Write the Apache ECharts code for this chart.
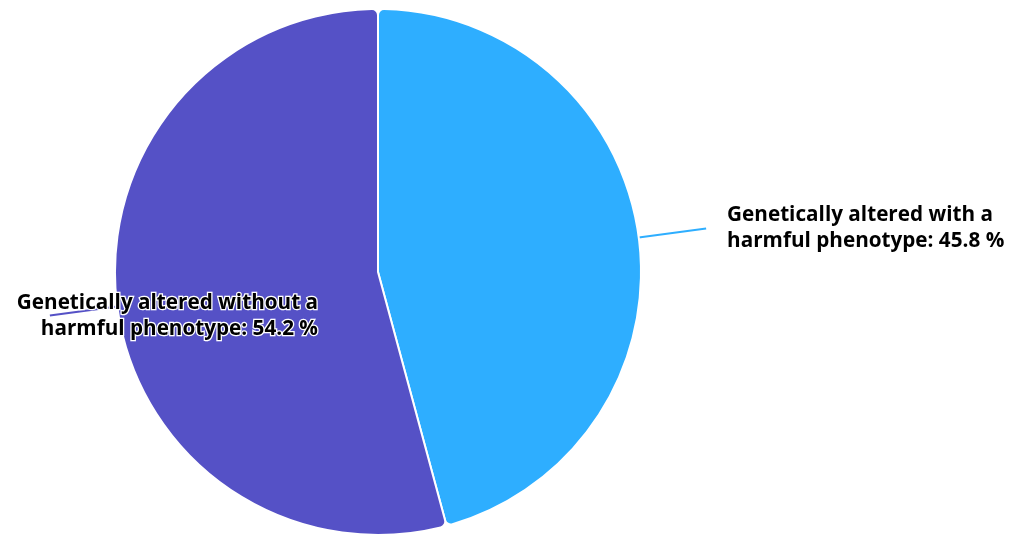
<!DOCTYPE html>
<html>
<head>
<meta charset="utf-8">
<script src="https://cdn.jsdelivr.net/npm/echarts@6/dist/echarts.min.js"></script>
<style>html,body{margin:0;padding:0;background:#fff;}#c{width:1018px;height:537px;}</style>
</head>
<body>
<div id="c"></div>
<script>
const categories = ['Genetically altered with a\nharmful phenotype', 'Genetically altered without a\nharmful phenotype'];
const values = [45.8, 54.2];
const colors = ['#2EAEFF', '#5551C6'];

const chart = echarts.init(document.getElementById('c'), null, {renderer: 'canvas'});
chart.setOption({
  animation: false,
  backgroundColor: '#ffffff',
  series: [{
    type: 'pie',
    center: [378, 272],
    radius: 263,
    startAngle: 90,
    clockwise: true,
    avoidLabelOverlap: false,
    data: categories.map((c, i) => ({name: c, value: values[i], itemStyle: {color: colors[i]}})),
    itemStyle: {borderColor: '#ffffff', borderWidth: 2, borderRadius: 6},
    label: {
      show: true,
      position: 'outside',
      formatter: p => p.name + ': ' + p.value + ' %',
      fontFamily: 'Open Sans',
      fontWeight: 'bold',
      fontSize: 20.7,
      lineHeight: 26,
      color: '#000',
      textBorderColor: '#fff',
      textBorderWidth: 2.5,
      distanceToLabelLine: 21
    },
    labelLine: {show: true, length: 68, length2: 0, smooth: false, lineStyle: {width: 2}},
    emphasis: {disabled: true},
    labelLayout: function (params) {
      if (params.dataIndex === 1) {
        const pts = params.labelLinePoints;
        return {
          x: 318, y: 316, align: 'right', verticalAlign: 'middle',
          labelLinePoints: pts ? [pts[0], pts[1], pts[1]] : undefined
        };
      }
      return {};
    }
  }]
});
</script>
</body>
</html>
